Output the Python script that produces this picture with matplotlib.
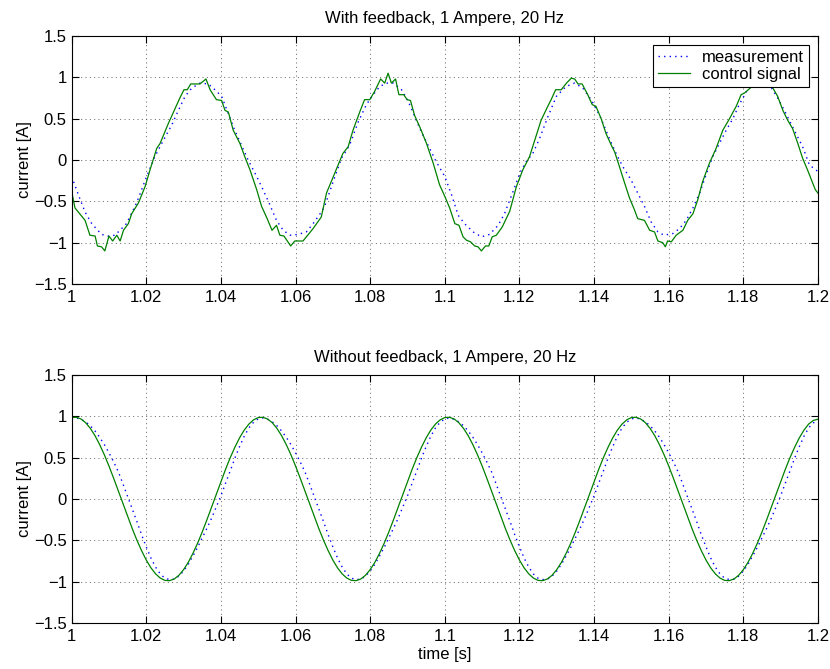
"""Current measurement vs control signal, with and without feedback"""

import matplotlib

matplotlib.use("Agg")
import matplotlib.pyplot as plt
import numpy as np
from matplotlib.ticker import FuncFormatter, MultipleLocator

# --- with feedback: control signal (noisy) -------------------------------
fb_ctrl_t = [
    1.0000, 1.0009, 1.0036, 1.0049, 1.0063, 1.0069, 1.0080, 1.0089, 1.0100, 1.0110,
    1.0121, 1.0130, 1.0139, 1.0152, 1.0161, 1.0179, 1.0197, 1.0210, 1.0228, 1.0237,
    1.0259, 1.0277, 1.0290, 1.0301, 1.0310, 1.0319, 1.0344, 1.0360, 1.0371, 1.0388,
    1.0402, 1.0411, 1.0420, 1.0433, 1.0451, 1.0464, 1.0478, 1.0496, 1.0509, 1.0524,
    1.0537, 1.0549, 1.0558, 1.0569, 1.0587, 1.0598, 1.0620, 1.0647, 1.0669, 1.0683,
    1.0705, 1.0727, 1.0741, 1.0754, 1.0772, 1.0785, 1.0799, 1.0812, 1.0828, 1.0839,
    1.0848, 1.0857, 1.0868, 1.0877, 1.0890, 1.0899, 1.0908, 1.0919, 1.0933, 1.0951,
    1.0969, 1.0986, 1.1000, 1.1013, 1.1027, 1.1038, 1.1049, 1.1058, 1.1069, 1.1080,
    1.1089, 1.1098, 1.1109, 1.1118, 1.1127, 1.1138, 1.1154, 1.1174, 1.1192, 1.1209,
    1.1227, 1.1241, 1.1258, 1.1276, 1.1285, 1.1297, 1.1312, 1.1326, 1.1339, 1.1348,
    1.1357, 1.1368, 1.1383, 1.1395, 1.1405, 1.1419, 1.1432, 1.1446, 1.1455, 1.1468,
    1.1482, 1.1495, 1.1508, 1.1517, 1.1535, 1.1549, 1.1562, 1.1571, 1.1584, 1.1591,
    1.1597, 1.1607, 1.1620, 1.1638, 1.1651, 1.1665, 1.1678, 1.1691, 1.1709, 1.1727,
    1.1745, 1.1763, 1.1781, 1.1794, 1.1803, 1.1821, 1.1832, 1.1842, 1.1852, 1.1860,
    1.1866, 1.1878, 1.1892, 1.1906, 1.1919, 1.1932, 1.1946, 1.1959, 1.1972, 1.1993,
    1.2000,
]
fb_ctrl_v = [
    -0.38, -0.58, -0.73, -0.91, -0.92, -1.04, -1.05, -1.10, -0.92, -0.98,
    -0.91, -0.98, -0.85, -0.77, -0.65, -0.52, -0.32, -0.12, 0.14, 0.20,
    0.44, 0.62, 0.75, 0.85, 0.85, 0.92, 0.92, 0.98, 0.85, 0.73,
    0.72, 0.60, 0.58, 0.36, 0.20, 0.04, -0.12, -0.36, -0.56, -0.71,
    -0.85, -0.79, -0.91, -0.92, -1.04, -0.98, -0.98, -0.83, -0.69, -0.40,
    -0.16, 0.08, 0.16, 0.36, 0.58, 0.73, 0.73, 0.83, 0.98, 0.93,
    1.05, 0.93, 0.98, 0.79, 0.79, 0.73, 0.72, 0.54, 0.40, 0.20,
    -0.04, -0.30, -0.44, -0.58, -0.77, -0.79, -0.93, -0.97, -0.99, -1.04,
    -1.05, -1.10, -1.04, -1.04, -0.93, -0.91, -0.81, -0.62, -0.32, -0.12,
    0.04, 0.24, 0.48, 0.65, 0.73, 0.85, 0.85, 0.93, 0.99, 0.98,
    0.92, 0.92, 0.79, 0.67, 0.65, 0.50, 0.32, 0.18, 0.10, -0.08,
    -0.28, -0.46, -0.60, -0.71, -0.73, -0.85, -0.87, -0.98, -1.00, -1.05,
    -0.98, -0.99, -0.91, -0.85, -0.73, -0.65, -0.48, -0.26, -0.04, 0.14,
    0.36, 0.50, 0.65, 0.79, 0.81, 0.88, 0.97, 1.02, 0.95, 0.98,
    0.90, 0.88, 0.77, 0.60, 0.48, 0.38, 0.20, 0.02, -0.12, -0.36,
    -0.40,
]

# --- with feedback: measurement -------------------------------------------
fb_meas_t = [
    1.0000, 1.0005, 1.0018, 1.0036, 1.0054, 1.0080, 1.0098, 1.0116, 1.0134, 1.0147,
    1.0174, 1.0201, 1.0223, 1.0246, 1.0268, 1.0286, 1.0304, 1.0322, 1.0344, 1.0366,
    1.0384, 1.0402, 1.0420, 1.0437, 1.0455, 1.0473, 1.0496, 1.0513, 1.0531, 1.0549,
    1.0567, 1.0585, 1.0607, 1.0629, 1.0647, 1.0669, 1.0678, 1.0701, 1.0723, 1.0745,
    1.0768, 1.0790, 1.0808, 1.0826, 1.0844, 1.0862, 1.0884, 1.0902, 1.0920, 1.0937,
    1.0955, 1.0977, 1.1000, 1.1018, 1.1036, 1.1053, 1.1076, 1.1098, 1.1120, 1.1143,
    1.1160, 1.1183, 1.1201, 1.1218, 1.1236, 1.1254, 1.1276, 1.1299, 1.1325, 1.1348,
    1.1370, 1.1392, 1.1415, 1.1428, 1.1441, 1.1459, 1.1477, 1.1499, 1.1517, 1.1535,
    1.1553, 1.1571, 1.1588, 1.1611, 1.1629, 1.1647, 1.1665, 1.1683, 1.1700, 1.1718,
    1.1736, 1.1754, 1.1772, 1.1789, 1.1816, 1.1840, 1.1860, 1.1870, 1.1892, 1.1910,
    1.1923, 1.1941, 1.1959, 1.1977, 1.2000,
]
fb_meas_v = [
    -0.20, -0.26, -0.42, -0.63, -0.77, -0.90, -0.92, -0.91, -0.83, -0.77,
    -0.52, -0.20, 0.04, 0.24, 0.42, 0.60, 0.77, 0.87, 0.93, 0.92,
    0.85, 0.77, 0.56, 0.36, 0.18, 0.00, -0.20, -0.36, -0.54, -0.73,
    -0.85, -0.91, -0.90, -0.87, -0.77, -0.63, -0.56, -0.26, 0.02, 0.18,
    0.46, 0.67, 0.79, 0.89, 0.93, 0.93, 0.85, 0.71, 0.52, 0.34,
    0.18, -0.02, -0.20, -0.42, -0.67, -0.77, -0.87, -0.93, -0.90, -0.79,
    -0.65, -0.38, -0.16, -0.02, 0.08, 0.26, 0.52, 0.77, 0.89, 0.93,
    0.87, 0.73, 0.54, 0.40, 0.26, 0.08, -0.08, -0.24, -0.40, -0.56,
    -0.75, -0.87, -0.91, -0.89, -0.83, -0.73, -0.58, -0.40, -0.18, 0.04,
    0.20, 0.36, 0.50, 0.67, 0.89, 0.95, 0.95, 0.91, 0.75, 0.60,
    0.48, 0.32, 0.16, -0.06, -0.14,
]

# --- without feedback: sampled every 1.25 ms ------------------------------
nofb_t = np.linspace(1.0, 1.2, 161)
nofb_ctrl_v = [
    0.985, 0.988, 0.968, 0.923, 0.855, 0.767, 0.659, 0.536, 0.399, 0.252,
    0.099, -0.056, -0.210, -0.359, -0.499, -0.626, -0.739, -0.833, -0.906, -0.957,
    -0.985, -0.988, -0.968, -0.923, -0.855, -0.767, -0.659, -0.536, -0.399, -0.252,
    -0.099, 0.056, 0.210, 0.359, 0.499, 0.626, 0.739, 0.833, 0.906, 0.957,
    0.985, 0.988, 0.968, 0.923, 0.855, 0.767, 0.659, 0.536, 0.399, 0.252,
    0.099, -0.056, -0.210, -0.359, -0.499, -0.626, -0.739, -0.833, -0.906, -0.957,
    -0.985, -0.988, -0.968, -0.923, -0.855, -0.767, -0.659, -0.536, -0.399, -0.252,
    -0.099, 0.056, 0.210, 0.359, 0.499, 0.626, 0.739, 0.833, 0.906, 0.957,
    0.985, 0.988, 0.968, 0.923, 0.855, 0.767, 0.659, 0.536, 0.399, 0.252,
    0.099, -0.056, -0.210, -0.359, -0.499, -0.626, -0.739, -0.833, -0.906, -0.957,
    -0.985, -0.988, -0.968, -0.923, -0.855, -0.767, -0.659, -0.536, -0.399, -0.252,
    -0.099, 0.056, 0.210, 0.359, 0.499, 0.626, 0.739, 0.833, 0.906, 0.957,
    0.985, 0.988, 0.968, 0.923, 0.855, 0.767, 0.659, 0.536, 0.399, 0.252,
    0.099, -0.056, -0.210, -0.359, -0.499, -0.626, -0.739, -0.833, -0.906, -0.957,
    -0.985, -0.988, -0.968, -0.923, -0.855, -0.767, -0.659, -0.536, -0.399, -0.252,
    -0.099, 0.056, 0.210, 0.359, 0.499, 0.626, 0.739, 0.833, 0.906, 0.950,
    0.965,
]
nofb_meas_v = [
    0.969, 0.980, 0.964, 0.933, 0.886, 0.824, 0.748, 0.659, 0.559, 0.449,
    0.331, 0.183, 0.030, -0.123, -0.274, -0.433, -0.579, -0.714, -0.824, -0.907,
    -0.959, -0.975, -0.970, -0.933, -0.871, -0.790, -0.690, -0.586, -0.471, -0.355,
    -0.233, -0.098, 0.038, 0.191, 0.339, 0.494, 0.633, 0.759, 0.859, 0.928,
    0.969, 0.980, 0.964, 0.933, 0.886, 0.824, 0.748, 0.659, 0.559, 0.449,
    0.331, 0.183, 0.030, -0.123, -0.274, -0.433, -0.579, -0.714, -0.824, -0.907,
    -0.959, -0.975, -0.970, -0.933, -0.871, -0.790, -0.690, -0.586, -0.471, -0.355,
    -0.233, -0.098, 0.038, 0.191, 0.339, 0.494, 0.633, 0.759, 0.859, 0.928,
    0.969, 0.980, 0.964, 0.933, 0.886, 0.824, 0.748, 0.659, 0.559, 0.449,
    0.331, 0.183, 0.030, -0.123, -0.274, -0.433, -0.579, -0.714, -0.824, -0.907,
    -0.959, -0.975, -0.970, -0.933, -0.871, -0.790, -0.690, -0.586, -0.471, -0.355,
    -0.233, -0.098, 0.038, 0.191, 0.339, 0.494, 0.633, 0.759, 0.859, 0.928,
    0.969, 0.980, 0.964, 0.933, 0.886, 0.824, 0.748, 0.659, 0.559, 0.449,
    0.331, 0.183, 0.030, -0.123, -0.274, -0.433, -0.579, -0.714, -0.824, -0.907,
    -0.959, -0.975, -0.970, -0.933, -0.871, -0.790, -0.690, -0.586, -0.471, -0.355,
    -0.233, -0.098, 0.038, 0.191, 0.339, 0.494, 0.633, 0.759, 0.859, 0.920,
    0.950,
]

titles = ["With feedback, 1 Ampere, 20 Hz", "Without feedback, 1 Ampere, 20 Hz"]

plt.rcParams["font.family"] = ["Liberation Sans", "DejaVu Sans"]
plt.rcParams["font.size"] = 12

MEAS_COLOR = "#0000ff"
CTRL_COLOR = "#008000"


def _fmt(x, _pos):
    return f"{x:g}".replace("-", "\u2212")


def _style_axes(ax, title):
    ax.set_xlim(1.0, 1.2)
    ax.set_ylim(-1.5, 1.5)
    ax.xaxis.set_major_locator(MultipleLocator(0.02))
    ax.yaxis.set_major_locator(MultipleLocator(0.5))
    ax.xaxis.set_major_formatter(FuncFormatter(_fmt))
    ax.yaxis.set_major_formatter(FuncFormatter(_fmt))
    ax.tick_params(direction="in", length=5, width=0.8, top=True, right=True,
                   labelsize=12)
    ax.tick_params(axis="x", pad=4.5)
    ax.tick_params(axis="y", pad=3.5)
    ax.grid(True, color="0.3", linestyle=(0, (1.2, 4.0)), linewidth=0.6)
    for sp in ax.spines.values():
        sp.set_linewidth(0.8)
    ax.set_title(title, fontsize=12, pad=9)
    ax.set_ylabel("current [A]", labelpad=1.5)


fig = plt.figure(figsize=(8.30, 6.69), dpi=100)
ax1 = fig.add_axes([0.0863, 0.5755, 0.8992, 0.3707])
ax2 = fig.add_axes([0.0863, 0.0688, 0.8992, 0.3707])

ax1.plot(fb_meas_t, fb_meas_v, color=MEAS_COLOR, linestyle=(0, (1, 3)),
         linewidth=1.0, label="measurement")
ax1.plot(fb_ctrl_t, fb_ctrl_v, color=CTRL_COLOR, linewidth=0.9,
         label="control signal")
_style_axes(ax1, titles[0])
leg = ax1.legend(loc="upper right", fontsize=12, fancybox=False, framealpha=1,
                 edgecolor="black", handlelength=1.9, handletextpad=0.7,
                 borderpad=0.3, labelspacing=0.1, borderaxespad=0.55)
leg.get_frame().set_linewidth(0.8)

ax2.plot(nofb_t, nofb_meas_v, color=MEAS_COLOR, linestyle=(0, (1, 3)),
         linewidth=1.0)
ax2.plot(nofb_t, nofb_ctrl_v, color=CTRL_COLOR, linewidth=0.9)
_style_axes(ax2, titles[1])
ax2.set_xlabel("time [s]", labelpad=2)

fig.savefig("out.png", dpi=100)
plt.close(fig)
